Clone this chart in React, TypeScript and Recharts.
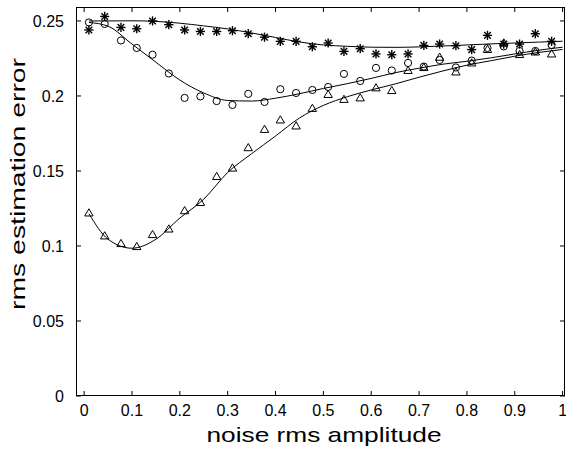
import React from "react";
import { ComposedChart, Line, Scatter, XAxis, YAxis } from "recharts";

// measured points (30 noise levels)
const noiseLevels = [
  0.01, 0.043, 0.077, 0.11, 0.143, 0.177, 0.21, 0.243, 0.277, 0.31, 0.343, 0.377, 0.41, 0.443, 0.477,
  0.51, 0.543, 0.577, 0.61, 0.643, 0.677, 0.71, 0.743, 0.777, 0.81, 0.843, 0.877, 0.91, 0.943, 0.977,
];
const starValues = [
  0.244, 0.253, 0.2457, 0.2448, 0.25, 0.2475, 0.244, 0.243, 0.243, 0.2435, 0.2415, 0.2392, 0.2364, 0.2364, 0.2328,
  0.2353, 0.2297, 0.2315, 0.228, 0.2275, 0.228, 0.2337, 0.2346, 0.2335, 0.2309, 0.2404, 0.2346, 0.2346, 0.2415, 0.2364,
];
const circleValues = [
  0.249, 0.248, 0.237, 0.232, 0.2275, 0.215, 0.1987, 0.1997, 0.1966, 0.194, 0.2014, 0.196, 0.2045, 0.202, 0.204,
  0.206, 0.2147, 0.21, 0.2187, 0.217, 0.222, 0.2196, 0.224, 0.219, 0.2236, 0.232, 0.233, 0.23, 0.23, 0.234,
];
const triangleValues = [
  0.122, 0.1067, 0.1016, 0.0996, 0.1076, 0.1113, 0.1235, 0.129, 0.1463, 0.1519, 0.1655, 0.1777, 0.184, 0.18, 0.1917,
  0.201, 0.1977, 0.1987, 0.2054, 0.2036, 0.217, 0.219, 0.2258, 0.216, 0.222, 0.231, 0.2353, 0.2276, 0.2293, 0.228,
];

// fitted curves
const fitLevels = [0.01, 0.05, 0.1, 0.15, 0.2, 0.25, 0.3, 0.35, 0.4, 0.45, 0.5, 0.55, 0.6, 0.65, 0.7, 0.75, 0.8, 0.85, 0.9, 0.95, 1.0];
const starFit = [
  0.25, 0.25, 0.2501, 0.2497, 0.2485, 0.2467, 0.2447, 0.242, 0.239, 0.236, 0.234, 0.2331, 0.2325, 0.2324, 0.2327,
  0.2333, 0.234, 0.2347, 0.2353, 0.2359, 0.2365,
];
const circleFit = [
  0.249, 0.2465, 0.2346, 0.2225, 0.2106, 0.202, 0.197, 0.1966, 0.1985, 0.2015, 0.205, 0.2082, 0.2117, 0.2155, 0.2185,
  0.2212, 0.2231, 0.2254, 0.228, 0.2305, 0.2325,
];
const triangleFit = [
  0.1215, 0.1045, 0.0985, 0.1045, 0.1186, 0.1312, 0.149, 0.1615, 0.1733, 0.1853, 0.1937, 0.1995, 0.204, 0.208, 0.2125,
  0.2167, 0.2205, 0.2235, 0.2265, 0.229, 0.231,
];

const xTicks = [0, 0.1, 0.2, 0.3, 0.4, 0.5, 0.6, 0.7, 0.8, 0.9, 1];
const yTicks = [0, 0.05, 0.1, 0.15, 0.2, 0.25];

const toPoints = (xs: number[], ys: number[]) => xs.map((x, i) => ({ x, y: ys[i] }));

const FONT = "'Liberation Sans', Arial, Helvetica, sans-serif";
const tickStyle = { fill: "#000", fontSize: 16, fontFamily: FONT };

const W = 566;
const H = 451;
const M = { top: 7, right: 1, bottom: 0, left: 0 };
const X_AXIS_H = 55;
const Y_AXIS_W = 76;
const PLOT_L = M.left + Y_AXIS_W;
const PLOT_T = M.top;
const PLOT_W = W - M.left - M.right - Y_AXIS_W;
const PLOT_H = H - M.top - M.bottom - X_AXIS_H;
const TICK = 5;

const xDomain = [-0.017, 1.005];
const yDomain = [0, 0.2593];

// frame tick positions (same linear mapping as the axes)
const tickX = (v: number) => PLOT_L + ((v - xDomain[0]) / (xDomain[1] - xDomain[0])) * PLOT_W;
const tickY = (v: number) => PLOT_T + PLOT_H - ((v - yDomain[0]) / (yDomain[1] - yDomain[0])) * PLOT_H;

const CircleMark = (p: any) => (
  <circle cx={p.cx} cy={p.cy} r={3.6} fill="none" stroke="#000" strokeWidth={1} />
);
const TriangleMark = (p: any) => {
  const { cx, cy } = p;
  return (
    <polygon
      points={`${cx},${cy - 4.2} ${cx - 4.2},${cy + 3} ${cx + 4.2},${cy + 3}`}
      fill="none"
      stroke="#000"
      strokeWidth={1}
    />
  );
};
const StarMark = (p: any) => {
  const { cx, cy } = p;
  const r = 4.6;
  const d = 3.3;
  return (
    <g stroke="#000" strokeWidth={1.4}>
      <line x1={cx} y1={cy - r} x2={cx} y2={cy + r} />
      <line x1={cx - r} y1={cy} x2={cx + r} y2={cy} />
      <line x1={cx - d} y1={cy - d} x2={cx + d} y2={cy + d} />
      <line x1={cx - d} y1={cy + d} x2={cx + d} y2={cy - d} />
    </g>
  );
};

export default function App() {
  const bottom = PLOT_T + PLOT_H;
  const right = PLOT_L + PLOT_W;
  return (
    <div style={{ position: "absolute", left: 0, top: 0, width: W, height: H, background: "#fff" }}>
      <ComposedChart width={W} height={H} margin={M}>
        <XAxis
          xAxisId="b"
          dataKey="x"
          type="number"
          domain={xDomain}
          ticks={xTicks}
          allowDataOverflow
          height={X_AXIS_H}
          tickSize={0}
          tickMargin={9}
          tick={tickStyle}
          tickLine={false}
          axisLine={false}
          interval={0}
        />
        <YAxis
          yAxisId="l"
          type="number"
          domain={yDomain}
          ticks={yTicks}
          allowDataOverflow
          width={Y_AXIS_W}
          tickSize={0}
          tickMargin={12}
          tick={tickStyle}
          tickLine={false}
          axisLine={false}
          interval={0}
        />
        <Line xAxisId="b" yAxisId="l" data={toPoints(fitLevels, starFit)} dataKey="y" type="monotone" stroke="#000" strokeWidth={1} dot={false} isAnimationActive={false} />
        <Line xAxisId="b" yAxisId="l" data={toPoints(fitLevels, circleFit)} dataKey="y" type="monotone" stroke="#000" strokeWidth={1} dot={false} isAnimationActive={false} />
        <Line xAxisId="b" yAxisId="l" data={toPoints(fitLevels, triangleFit)} dataKey="y" type="monotone" stroke="#000" strokeWidth={1} dot={false} isAnimationActive={false} />
        <Scatter xAxisId="b" yAxisId="l" data={toPoints(noiseLevels, starValues)} dataKey="y" shape={StarMark} isAnimationActive={false} />
        <Scatter xAxisId="b" yAxisId="l" data={toPoints(noiseLevels, circleValues)} dataKey="y" shape={CircleMark} isAnimationActive={false} />
        <Scatter xAxisId="b" yAxisId="l" data={toPoints(noiseLevels, triangleValues)} dataKey="y" shape={TriangleMark} isAnimationActive={false} />
      </ComposedChart>
      <svg width={W} height={H} style={{ position: "absolute", left: 0, top: 0, pointerEvents: "none" }}>
        {/* box and inward ticks */}
        <rect x={PLOT_L + 0.5} y={PLOT_T + 0.5} width={PLOT_W - 1} height={PLOT_H - 1} fill="none" stroke="#000" strokeWidth={1} />
        <g stroke="#000" strokeWidth={1}>
          {xTicks.map((v) => (
            <g key={`x${v}`}>
              <line x1={tickX(v)} x2={tickX(v)} y1={bottom} y2={bottom - TICK} />
              <line x1={tickX(v)} x2={tickX(v)} y1={PLOT_T} y2={PLOT_T + TICK} />
            </g>
          ))}
          {yTicks.map((v) => (
            <g key={`y${v}`}>
              <line x1={PLOT_L} x2={PLOT_L + TICK} y1={tickY(v)} y2={tickY(v)} />
              <line x1={right} x2={right - TICK} y1={tickY(v)} y2={tickY(v)} />
            </g>
          ))}
        </g>
        <text x={324} y={442} textAnchor="middle" fontFamily={FONT} fontSize={21} fill="#000" textLength={235} lengthAdjust="spacingAndGlyphs">
          noise rms amplitude
        </text>
        <text
          x={0}
          y={0}
          transform="translate(25,184) rotate(-90)"
          textAnchor="middle"
          fontFamily={FONT}
          fontSize={21}
          fill="#000"
          textLength={252}
          lengthAdjust="spacingAndGlyphs"
        >
          rms estimation error
        </text>
      </svg>
    </div>
  );
}
